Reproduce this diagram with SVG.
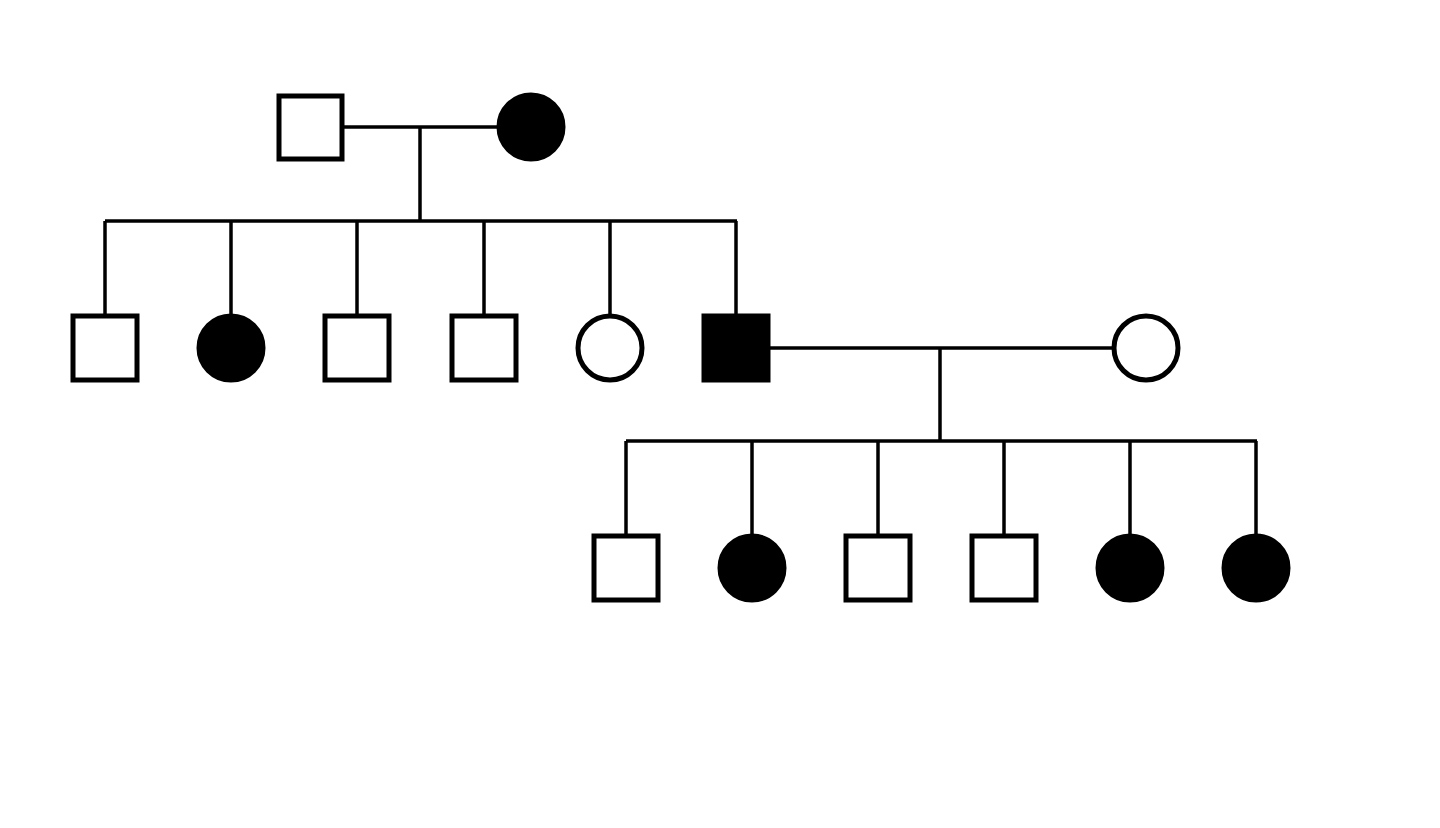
<svg xmlns="http://www.w3.org/2000/svg" width="1440" height="828" viewBox="0 0 1440 828">
<style>
.o{fill:#fff;stroke:#000;stroke-width:5}
.f{fill:#000;stroke:#000;stroke-width:5}
.c line{stroke:#000;stroke-width:3.5}
</style>
<rect width="1440" height="828" fill="#fff"/>
<g class="c" id="connectors">
<line x1="343" y1="127" x2="498" y2="127"/>
<line x1="420" y1="127" x2="420" y2="221"/>
<line x1="105" y1="221" x2="737" y2="221"/>
<line x1="105" y1="221" x2="105" y2="315"/>
<line x1="231" y1="221" x2="231" y2="315"/>
<line x1="357" y1="221" x2="357" y2="315"/>
<line x1="484" y1="221" x2="484" y2="315"/>
<line x1="610" y1="221" x2="610" y2="315"/>
<line x1="736" y1="221" x2="736" y2="315"/>
<line x1="770" y1="348" x2="1113" y2="348"/>
<line x1="940" y1="348" x2="940" y2="441"/>
<line x1="626" y1="441" x2="1257" y2="441"/>
<line x1="626" y1="441" x2="626" y2="535"/>
<line x1="752" y1="441" x2="752" y2="535"/>
<line x1="878" y1="441" x2="878" y2="535"/>
<line x1="1004" y1="441" x2="1004" y2="535"/>
<line x1="1130" y1="441" x2="1130" y2="535"/>
<line x1="1256" y1="441" x2="1256" y2="535"/>
</g>
<g id="g1m"><rect class="o" x="279" y="96" width="63" height="63"/></g>
<g id="g1f"><circle class="f" cx="531" cy="127" r="32"/></g>
<g id="g2a"><rect class="o" x="73" y="316" width="64" height="64"/></g>
<g id="g2b"><circle class="f" cx="231" cy="348" r="32"/></g>
<g id="g2c"><rect class="o" x="325" y="316" width="64" height="64"/></g>
<g id="g2d"><rect class="o" x="452" y="316" width="64" height="64"/></g>
<g id="g2e"><circle class="o" cx="610" cy="348" r="32"/></g>
<g id="g2f"><rect class="f" x="704" y="316" width="64" height="64"/></g>
<g id="g2s"><circle class="o" cx="1146" cy="348" r="32"/></g>
<g id="g3a"><rect class="o" x="594" y="536" width="64" height="64"/></g>
<g id="g3b"><circle class="f" cx="752" cy="568" r="32"/></g>
<g id="g3c"><rect class="o" x="846" y="536" width="64" height="64"/></g>
<g id="g3d"><rect class="o" x="972" y="536" width="64" height="64"/></g>
<g id="g3e"><circle class="f" cx="1130" cy="568" r="32"/></g>
<g id="g3f"><circle class="f" cx="1256" cy="568" r="32"/></g>
</svg>
